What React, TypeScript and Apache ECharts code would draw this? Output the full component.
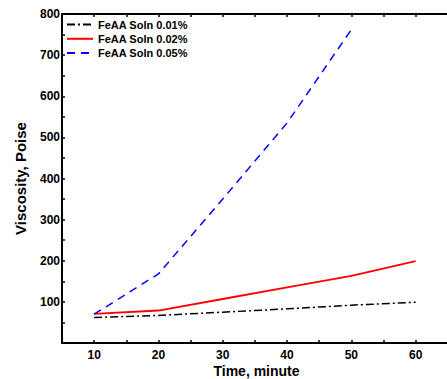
import React, { useEffect, useRef } from "react";
import * as echarts from "echarts";

const times = [10, 20, 30, 40, 50, 60];
const soln001 = [62, 67, 75, 83, 92, 99];
const soln002 = [71, 79, 107, 135, 163, 199];
const soln005 = [70, 168, 350, 535, 762];
const seriesNames = ["FeAA Soln 0.01%", "FeAA Soln 0.02%", "FeAA Soln 0.05%"];

const FONT = "'Liberation Sans', Arial, sans-serif";

export default function App() {
  const ref = useRef<HTMLDivElement>(null);
  useEffect(() => {
    if (!ref.current) return;
    const chart = echarts.init(ref.current, undefined, { renderer: "svg" });
    const pair = (vals: number[]) => vals.map((v, i) => [times[i], v]);
    chart.setOption({
      animation: false,
      backgroundColor: "#fff",
      grid: { left: 62, top: 14, right: -4, bottom: 36, outerBoundsMode: "none", containLabel: false },
      legend: {
        left: 66,
        top: 19,
        orient: "vertical",
        padding: 0,
        itemWidth: 26,
        itemHeight: 14,
        itemGap: 3,
        itemStyle: { opacity: 0 },
        textStyle: { fontFamily: FONT, fontWeight: "bold", fontSize: 11, color: "#000" },
        data: seriesNames,
      },
      xAxis: [
        {
          type: "value",
          min: 5,
          max: 65.5,
          interval: 5,
          name: "Time, minute",
          nameLocation: "middle",
          nameGap: 21,
          nameMoveOverlap: false,
          nameTextStyle: { fontFamily: FONT, fontWeight: "bold", fontSize: 14, lineHeight: 14, color: "#000" },
          axisLine: { show: true, onZero: false, lineStyle: { color: "#000", width: 2 } },
          axisTick: { show: true, inside: true, length: 3, lineStyle: { color: "#000", width: 1.5 } },
          axisLabel: {
            margin: 6,
            fontFamily: FONT,
            fontWeight: "bold",
            fontSize: 12,
            color: "#000",
            formatter: (v: number) => (v % 10 === 0 && v >= 10 && v <= 60 ? String(v) : ""),
          },
          splitLine: { show: false },
        },
        {
          type: "value",
          position: "top",
          min: 5,
          max: 65.5,
          interval: 5,
          axisLine: { show: true, onZero: false, lineStyle: { color: "#000", width: 2 } },
          axisTick: { show: true, inside: true, length: 3, lineStyle: { color: "#000", width: 1.5 } },
          axisLabel: { show: false },
          splitLine: { show: false },
        },
      ],
      yAxis: {
        type: "value",
        min: 0,
        max: 800,
        interval: 50,
        name: "Viscosity, Poise",
        nameLocation: "middle",
        nameRotate: 90,
        nameGap: 34,
        nameMoveOverlap: false,
        nameTextStyle: { fontFamily: FONT, fontWeight: "bold", fontSize: 15, color: "#000" },
        axisLine: { show: true, onZero: false, lineStyle: { color: "#000", width: 2 } },
        axisTick: { show: true, inside: true, length: 3, lineStyle: { color: "#000", width: 1.5 } },
        axisLabel: {
          margin: 2,
          fontFamily: FONT,
          fontWeight: "bold",
          fontSize: 12,
          color: "#000",
          formatter: (v: number) => (v % 100 === 0 && v > 0 ? String(v) : ""),
        },
        splitLine: { show: false },
      },
      series: [
        {
          name: seriesNames[0],
          type: "line",
          data: pair(soln001),
          symbol: "none",
          lineStyle: { color: "#000", width: 1.5, type: [8, 3, 2, 3] },
          itemStyle: { color: "#000" },
        },
        {
          name: seriesNames[1],
          type: "line",
          data: pair(soln002),
          symbol: "none",
          lineStyle: { color: "#ff0000", width: 1.8, type: "solid" },
          itemStyle: { color: "#ff0000" },
        },
        {
          name: seriesNames[2],
          type: "line",
          data: pair(soln005),
          symbol: "none",
          lineStyle: { color: "#0000ff", width: 1.5, type: [8, 6] },
          itemStyle: { color: "#0000ff" },
        },
      ],
    });
    return () => chart.dispose();
  }, []);
  return <div ref={ref} style={{ width: 447, height: 379, position: "absolute", left: 0, top: 0 }} />;
}
